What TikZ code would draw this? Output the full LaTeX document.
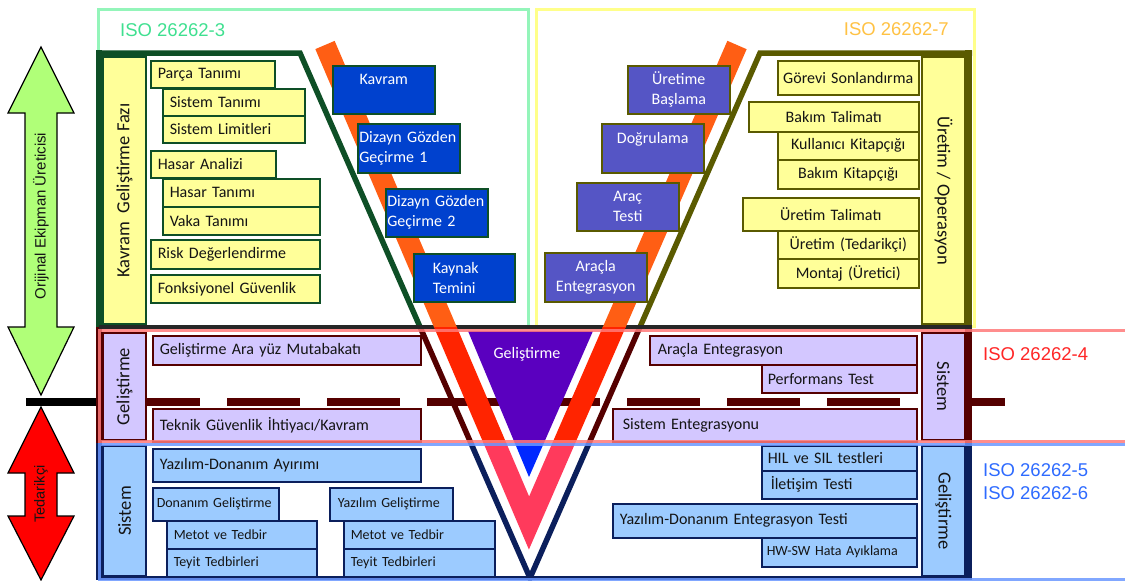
\documentclass[tikz,border=0pt]{standalone}
\usepackage{fontspec}
\setmainfont{Carlito}
\newfontfamily\arialf{Liberation Sans}
\hyphenpenalty=10000
\exhyphenpenalty=10000
\newcommand\fA{\fontsize{16}{20}\selectfont}
\newcommand\fB{\fontsize{14}{17}\selectfont}
\newcommand\fS{\fontsize{18.5}{22}\selectfont}
\newcommand\fI{\arialf\fontsize{18.5}{23}\selectfont}
\definecolor{yfill}{HTML}{FFFF99}
\definecolor{dkgreen}{HTML}{0E4F26}
\definecolor{myolive}{HTML}{5A5A00}
\definecolor{boxblue}{HTML}{0041CE}
\definecolor{boxpurple}{HTML}{5555C5}
\definecolor{lav}{HTML}{D3C7FF}
\definecolor{ltblue}{HTML}{9CCBFF}
\definecolor{dkred}{HTML}{550000}
\definecolor{mynavy}{HTML}{0B1F5C}
\definecolor{vorange}{HTML}{FF5E14}
\definecolor{vred}{HTML}{FF2400}
\definecolor{vpink}{HTML}{FF3A5C}
\definecolor{tripurple}{HTML}{5A00BF}
\definecolor{triblue}{HTML}{0028FF}
\definecolor{isogreenline}{HTML}{94F5BA}
\definecolor{isogreentext}{HTML}{3FE090}
\definecolor{isoyellowline}{HTML}{FFFF8A}
\definecolor{isoorange}{HTML}{FFC244}
\definecolor{isoredline}{HTML}{FF7A7A}
\definecolor{isored}{HTML}{FF2626}
\definecolor{isoblueline}{HTML}{6C98FF}
\definecolor{isoblue}{HTML}{2E6BFF}
\definecolor{arrowgreen}{HTML}{B0FF78}
\definecolor{txt}{HTML}{141414}
% [inset]{style}{name}{x1}{y1}{x2}{y2}{text}
\newcommand{\bx}[8][7]{%
  \pgfmathsetmacro\myBW{#6-#4}%
  \pgfmathsetmacro\myBH{#7-#5}%
  \pgfmathsetmacro\myTW{#6-#4-2*#1}%
  \node[#2, anchor=north west, inner xsep=#1pt, minimum width=\myBW pt, minimum height=\myBH pt, text width=\myTW pt] (#3) at (#4,#5) {#8};}
\begin{document}
\begin{tikzpicture}[x=1pt,y=-1pt,
  boxbase/.style={draw, line width=1.5pt, inner ysep=0pt, font=\fA, text=txt},
  ybox/.style={boxbase, fill=yfill, draw=dkgreen, align=left},
  yboxr/.style={boxbase, fill=yfill, draw=myolive, align=center},
  bbox/.style={boxbase, fill=boxblue, draw=dkgreen, text=white, align=left},
  pbox/.style={boxbase, fill=boxpurple, draw=myolive, text=white, align=center},
  mbox/.style={boxbase, fill=lav, draw=dkred, align=left},
  lbbox/.style={boxbase, fill=ltblue, draw=mynavy, align=left},
  small/.style={font=\fB},
  side/.style={draw, line width=1.2pt, inner sep=0pt, font=\fS, text=txt},
  isolab/.style={font=\fI, inner sep=0pt},
  vline/.style={line width=5.5pt, line join=miter},
  redv/.style={line width=21pt, line join=miter, line cap=butt},
  dbar/.style={line width=8.5pt},
  arrowshape/.style={draw=black, line width=1.2pt, line join=miter},
]
\fill[white] (0,0) rectangle (1125,581);
\useasboundingbox (0,0) rectangle (1125,581);

% ISO 26262-3 and -7 frames
\draw[isogreenline, line width=3pt] (98,9.5) rectangle (528,326);
\draw[isoyellowline, line width=3pt] (536,9.5) rectangle (974,326);
\node[isolab, text=isogreentext, anchor=west] (iso3) at (120,30) {ISO 26262-3};
\node[isolab, text=isoorange, anchor=east] (iso7) at (949,29) {ISO 26262-7};

% left arrows
\draw[arrowshape, fill=arrowgreen] (41,47) -- (74,113) -- (57,113) -- (57,327) -- (74,327) -- (41,395) -- (8,327) -- (25,327) -- (25,113) -- (8,113) -- cycle;
\node[rotate=90, font=\arialf\fontsize{15}{17}\selectfont, text=txt] (oem) at (41,216) {Orijinal Ekipman Üreticisi};
\draw[arrowshape, fill=red] (41,407) -- (74,473) -- (57,473) -- (57,516) -- (74,516) -- (41,580) -- (8,516) -- (25,516) -- (25,473) -- (8,473) -- cycle;
\node[rotate=90, font=\arialf\fontsize{14.5}{16}\selectfont, text=txt] (ted) at (41,494) {Tedarikçi};

% separator bar and dashes
\draw[dbar, black] (26,402) -- (99,402);
\draw[dbar, dkred, dash pattern=on 73pt off 27pt] (127,402) -- (903,402);
\draw[dbar, dkred] (969,402) -- (1005,402);

% V frame lines
\begin{scope}
  \clip (0,0) rectangle (530,327);
  \draw[vline, dkgreen] (96.25,53) -- (300,53) -- (530,578);
\end{scope}
\begin{scope}
  \clip (530,0) rectangle (1125,327);
  \draw[vline, myolive] (530,578) -- (760,53) -- (972,53);
\end{scope}
\begin{scope}
  \clip (0,327) rectangle (1125,443);
  \draw[vline, dkred] (300,53) -- (530,578) -- (760,53);
\end{scope}
\begin{scope}
  \clip (0,443) rectangle (1125,581);
  \draw[vline, mynavy] (300,53) -- (530,578) -- (760,53);
\end{scope}
\draw[line width=5.5pt, dkgreen] (99,50.25) -- (99,327);
\draw[line width=5.5pt, dkred] (99,327) -- (99,443);
\draw[line width=5.5pt, mynavy] (99,443) -- (99,580);
\draw[line width=7pt, myolive] (968.5,50.25) -- (968.5,327);
\draw[line width=7pt, dkred] (968.5,327) -- (968.5,443);
\draw[line width=7pt, mynavy] (968.5,443) -- (968.5,580);
\draw[line width=4pt, black!85] (99,327) -- (972,327);
\draw[line width=4pt, mynavy] (99,578) -- (972,578);

% red V band
\begin{scope}
  \clip (0,0) rectangle (1125,327);
  \draw[redv, vorange] (325,45) -- (529,523) -- (737,45);
\end{scope}
\begin{scope}
  \clip (0,327) rectangle (1125,443);
  \draw[redv, vred] (325,45) -- (529,523) -- (737,45);
\end{scope}
\begin{scope}
  \clip (0,443) rectangle (1125,581);
  \draw[redv, vpink] (325,45) -- (529,523) -- (737,45);
\end{scope}

% development triangle
\begin{scope}
  \clip (0,327) rectangle (1125,443);
  \fill[tripurple] (468,331) -- (593,331) -- (529,477) -- cycle;
\end{scope}
\begin{scope}
  \clip (0,443) rectangle (1125,581);
  \fill[triblue] (468,331) -- (593,331) -- (529,477) -- cycle;
\end{scope}
\node[font=\fA, text=white] (dev) at (527,354) {Geliştirme};

% side bars
\node[side, fill=yfill, draw=dkgreen, rotate=90, minimum width=267pt, minimum height=43pt] (sbk) at (124.5,190.5) {Kavram\ \ Geliştirme Fazı};
\node[side, fill=yfill, draw=myolive, rotate=-90, minimum width=267pt, minimum height=43pt] (sbu) at (943.5,190.5) {Üretim / Operasyon};
\node[side, fill=lav, draw=dkred, rotate=90, minimum width=107pt, minimum height=43pt] (sbg) at (124.5,386.5) {Geliştirme};
\node[side, fill=ltblue, draw=mynavy, rotate=90, minimum width=130pt, minimum height=43pt] (sbs) at (124.5,511) {Sistem};
\node[side, fill=lav, draw=dkred, rotate=-90, minimum width=107pt, minimum height=43pt] (sbs2) at (943.5,386.5) {Sistem};
\node[side, fill=ltblue, draw=mynavy, rotate=-90, minimum width=130pt, minimum height=43pt] (sbg2) at (943.5,511) {Geliştirme};

% left yellow boxes
\bx{ybox}{parca}{150}{60}{274}{87}{Parça Tanımı}
\bx{ybox}{sistan}{162}{88}{304}{115}{Sistem Tanımı}
\bx{ybox}{sislim}{162}{115}{304}{142}{Sistem Limitleri}
\bx{ybox}{hasan}{150}{150}{275}{177}{Hasar Analizi}
\bx{ybox}{hastan}{162}{178}{319}{206}{Hasar Tanımı}
\bx{ybox}{vaka}{162}{206}{319}{234}{Vaka Tanımı}
\bx{ybox}{risk}{150}{239}{319}{268}{Risk Değerlendirme}
\bx{ybox}{fonk}{150}{274}{319}{302}{Fonksiyonel Güvenlik}

% blue review boxes
\bx{bbox, align=center}{kavram}{332}{65}{434}{113}{Kavram\\\phantom{X}}
\bx[1.5]{bbox}{dgg1}{357}{123}{459}{172}{\mbox{Dizayn Gözden}\\Geçirme 1}
\bx[1.5]{bbox}{dgg2}{385}{188}{487}{236}{\mbox{Dizayn Gözden}\\Geçirme 2}
\bx[19]{bbox}{kaynak}{413}{253}{514}{301}{Kaynak\\Temini}

% purple validation boxes
\bx{pbox}{urbas}{627}{65}{729}{113}{Üretime\\Başlama}
\bx{pbox}{dogru}{601}{123}{703}{172}{Doğrulama\\\phantom{X}}
\bx{pbox}{aractest}{576}{182}{678}{230}{Araç\\Testi}
\bx[2]{pbox}{aracent}{544}{252}{646}{301}{Araçla\\Entegrasyon}

% right yellow boxes
\bx[3]{yboxr}{gorev}{777}{60}{918}{94}{Görevi Sonlandırma}
\bx{yboxr}{bakimt}{748}{101}{918}{131}{Bakım Talimatı}
\bx[3]{yboxr}{kullan}{777}{131}{918}{159}{Kullanıcı Kitapçığı}
\bx[3]{yboxr}{bakimk}{777}{159}{918}{188}{Bakım Kitapçığı}
\bx{yboxr}{urtal}{742}{197}{918}{230}{Üretim Talimatı}
\bx[3]{yboxr}{urted}{777}{230}{918}{258}{Üretim (Tedarikçi)}
\bx[3]{yboxr}{montaj}{777}{258}{918}{287}{Montaj (Üretici)}

% system level (middle band)
\bx{mbox}{gam}{152}{335}{420}{364}{Geliştirme Ara yüz Mutabakatı}
\bx{mbox}{tgi}{152}{408}{420}{441}{Teknik Güvenlik İhtiyacı/Kavram}
\bx[8]{mbox}{arent}{649}{335}{916}{364}{Araçla Entegrasyon}
\bx[6]{mbox}{perf}{761}{364}{916}{392}{Performans Test}
\bx[10]{mbox}{sisent}{612}{408}{916}{441}{Sistem Entegrasyonu}

% hardware/software level (bottom band)
\bx{lbbox}{yda}{152}{448}{420}{481}{Yazılım-Donanım Ayırımı}
\bx[4]{lbbox, small}{dong}{152}{487}{278}{520}{Donanım Geliştirme}
\bx{lbbox, small}{met1}{166}{520}{316}{548}{Metot ve Tedbir}
\bx{lbbox, small}{tey1}{166}{548}{316}{576}{Teyit Tedbirleri}
\bx[8]{lbbox, small}{yazg}{329}{487}{452}{520}{Yazılım Geliştirme}
\bx{lbbox, small}{met2}{343}{520}{494}{548}{Metot ve Tedbir}
\bx{lbbox, small}{tey2}{343}{548}{494}{576}{Teyit Tedbirleri}
\bx[6]{lbbox}{hil}{761}{445}{916}{470}{HIL ve SIL testleri}
\bx[9]{lbbox}{ilet}{761}{470}{916}{498}{İletişim Testi}
\bx{lbbox}{ydet}{612}{503}{916}{537}{Yazılım-Donanım Entegrasyon Testi}
\bx[5]{lbbox, small}{hwsw}{761}{537}{916}{566}{HW-SW Hata Ayıklama}

% ISO 26262-4 / -5 / -6 frames
\draw[isoredline, line width=3pt, opacity=0.85] (99,330.5) rectangle (1135,441);
\draw[isoblueline, line width=3pt, opacity=0.85] (99,444.5) rectangle (1135,579);
\node[isolab, text=isored, anchor=west] (iso4) at (983,354) {ISO 26262-4};
\node[isolab, text=isoblue, anchor=west, align=left] (iso56) at (983,481.5) {ISO 26262-5\\ISO 26262-6};
\end{tikzpicture}
\end{document}
